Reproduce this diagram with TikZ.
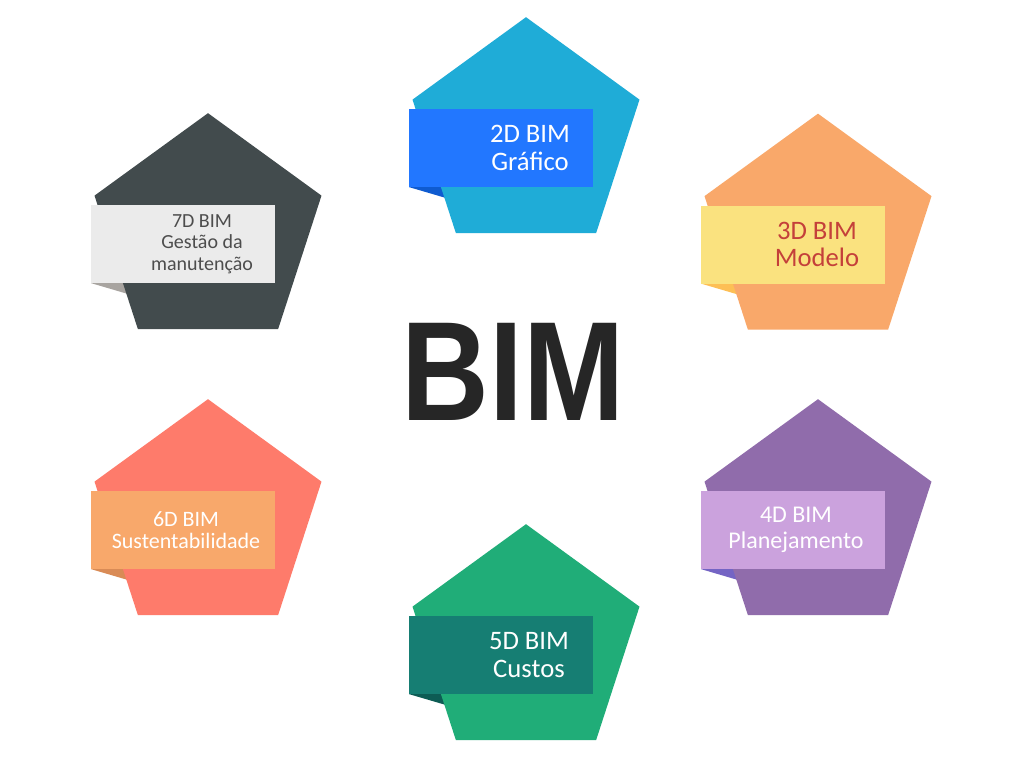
\documentclass[tikz,border=0pt]{standalone}
\usepackage{fontspec}
\setmainfont{Carlito}
\newfontfamily\titlefont{Liberation Sans}
\usepackage{tikz}
\usetikzlibrary{shapes.geometric, calc, backgrounds}

\definecolor{titlegray}{HTML}{262626}
\definecolor{pent2d}{HTML}{1FACD7}
\definecolor{tag2d}{HTML}{2277FF}
\definecolor{fold2d}{HTML}{0F5BD0}
\definecolor{pent3d}{HTML}{F9A86A}
\definecolor{tag3d}{HTML}{FAE27F}
\definecolor{fold3d}{HTML}{FDBF55}
\definecolor{text3d}{HTML}{C4403A}
\definecolor{pent4d}{HTML}{906CAB}
\definecolor{tag4d}{HTML}{CBA2DD}
\definecolor{fold4d}{HTML}{7464C4}
\definecolor{pent5d}{HTML}{20AD78}
\definecolor{tag5d}{HTML}{167E73}
\definecolor{fold5d}{HTML}{0D5C54}
\definecolor{pent6d}{HTML}{FE7B6B}
\definecolor{tag6d}{HTML}{F8A86B}
\definecolor{fold6d}{HTML}{D98B56}
\definecolor{pent7d}{HTML}{424B4D}
\definecolor{tag7d}{HTML}{EBEBEB}
\definecolor{fold7d}{HTML}{A8A4A0}
\definecolor{text7d}{HTML}{4D4D4D}

\begin{document}
\begin{tikzpicture}[x=0.75pt, y=-0.75pt,
    pent/.style={regular polygon, regular polygon sides=5, minimum size=179pt, inner sep=0pt, outer sep=0pt},
    tag/.style={rectangle, minimum width=138pt, minimum height=58.5pt, inner sep=0pt, outer sep=0pt},
    tagtext/.style={align=center, inner sep=0pt, font=\fontsize{20}{20.5}\selectfont}]
\useasboundingbox (0,0) rectangle (1024,758);

% centre title
\node[text=titlegray, font=\titlefont\bfseries\fontsize{106}{106}\selectfont] (title) at (513,371.5) {\scalebox{0.86}[1]{BIM}};

% 2D
\node[pent, fill=pent2d] (p2d) at (526,136.5) {};
\node[tag, fill=tag2d] (t2d) at ($(p2d)+(-25,11.6)$) {};
\node[tagtext, text=white] (l2d) at ($(p2d)+(4,11.6)$) {2D BIM\\Gráfico};

% 3D
\node[pent, fill=pent3d] (p3d) at (818,233) {};
\node[tag, fill=tag3d] (t3d) at ($(p3d)+(-25,11.6)$) {};
\node[tagtext, text=text3d] (l3d) at ($(p3d)+(-1,11.6)$) {3D BIM\\Modelo};

% 4D
\node[pent, fill=pent4d] (p4d) at (818,518.5) {};
\node[tag, fill=tag4d] (t4d) at ($(p4d)+(-25,11.6)$) {};
\node[tagtext, text=white, font=\fontsize{18}{19.5}\selectfont] (l4d) at ($(p4d)+(-22,11.6)$) {4D BIM\\Planejamento};

% 5D
\node[pent, fill=pent5d] (p5d) at (526,643.5) {};
\node[tag, fill=tag5d] (t5d) at ($(p5d)+(-25,11.6)$) {};
\node[tagtext, text=white] (l5d) at ($(p5d)+(3,11.6)$) {5D BIM\\Custos};

% 6D
\node[pent, fill=pent6d] (p6d) at (208,518.5) {};
\node[tag, fill=tag6d] (t6d) at ($(p6d)+(-25,11.6)$) {};
\node[tagtext, text=white, font=\fontsize{16.5}{17}\selectfont] (l6d) at ($(p6d)+(-22,11.6)$) {6D BIM\\Sustentabilidade};

% 7D
\node[pent, fill=pent7d] (p7d) at (208,232.5) {};
\node[tag, fill=tag7d] (t7d) at ($(p7d)+(-25,11.6)$) {};
\node[tagtext, text=text7d, font=\fontsize{15}{16}\selectfont] (l7d) at ($(p7d)+(-6,11.6)$) {7D BIM\\Gestão da\\manutenção};

% white page and folded corners behind the pentagons
\begin{scope}[on background layer]
\fill[white] (0,0) rectangle (1024,758);
\fill[fold2d] (t2d.south west) -- ++(50,0) -- ++(-10,11.8) -- cycle;
\fill[fold3d] (t3d.south west) -- ++(50,0) -- ++(-10,11.8) -- cycle;
\fill[fold4d] (t4d.south west) -- ++(50,0) -- ++(-10,11.8) -- cycle;
\fill[fold5d] (t5d.south west) -- ++(50,0) -- ++(-10,11.8) -- cycle;
\fill[fold6d] (t6d.south west) -- ++(50,0) -- ++(-10,11.8) -- cycle;
\fill[fold7d] (t7d.south west) -- ++(50,0) -- ++(-10,11.8) -- cycle;
\end{scope}
\end{tikzpicture}
\end{document}
